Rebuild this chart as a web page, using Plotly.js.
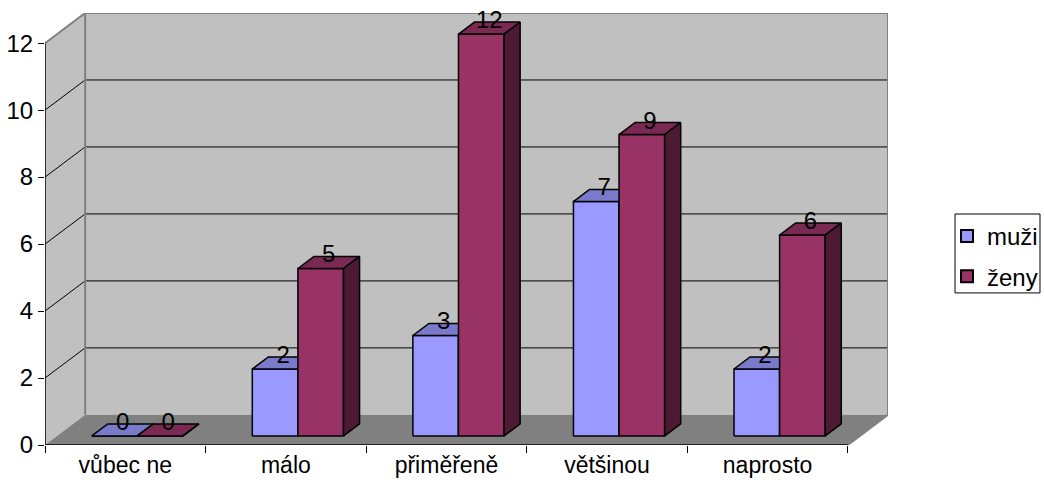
<!DOCTYPE html>
<html>
<head>
<meta charset="utf-8">
<script src="https://cdn.plot.ly/plotly-3.0.1.min.js"></script>
<style>
  html, body { margin: 0; padding: 0; background: #fff; }
  #chart { width: 1044px; height: 480px; }
</style>
</head>
<body>
<div id="chart"></div>
<script>
// Survey answers split by gender
const categories = ['vůbec ne', 'málo', 'přiměřeně', 'většinou', 'naprosto'];
const muzi = [0, 2, 3, 7, 2];
const zeny = [0, 5, 12, 9, 6];
const yTicks = [0, 2, 4, 6, 8, 10, 12];
const seriesNames = ['muži', 'ženy'];

// Pseudo-3D geometry (axis units)
const DX = 0.25;      // horizontal depth shift of the back wall
const DY = 0.9;       // vertical depth shift of the back wall
const BAR_W = 0.284;  // bar width per series
const FRONT = 0.3;    // bar front face depth fraction
const BACK = 0.7;     // bar back face depth fraction
const YMAX = 12;
const N = categories.length;
const FONT_SIZE = 24;

const ox = FRONT * DX, oy = FRONT * DY;
const bx = BACK * DX, by = BACK * DY;

function faces(values, slot) {
  const f = {fx: [], fy: [], tx: [], ty: [], sx: [], sy: [], lx: [], ly: [], lt: []};
  values.forEach((v, i) => {
    const c = i + 0.5;
    const x0 = slot === 0 ? c - BAR_W : c;
    const x1 = x0 + BAR_W;
    f.fx.push(x0 + ox, x1 + ox, x1 + ox, x0 + ox, x0 + ox, null);
    f.fy.push(oy, oy, v + oy, v + oy, oy, null);
    f.tx.push(x0 + ox, x1 + ox, x1 + bx, x0 + bx, x0 + ox, null);
    f.ty.push(v + oy, v + oy, v + by, v + by, v + oy, null);
    f.sx.push(x1 + ox, x1 + bx, x1 + bx, x1 + ox, x1 + ox, null);
    f.sy.push(oy, by, v + by, v + oy, oy, null);
    f.lx.push((x0 + x1) / 2 + 0.5 * DX);
    f.ly.push(v + by);
    f.lt.push(String(v));
  });
  return f;
}

const palette = [
  {front: '#9999ff', top: '#7a7acc', side: '#4d4d80'},
  {front: '#993366', top: '#7a2952', side: '#4d1a33'}
];

const traces = [];
const labelTraces = [];
[muzi, zeny].forEach((vals, s) => {
  const f = faces(vals, s);
  const col = palette[s];
  const base = {type: 'scatter', mode: 'lines', fill: 'toself', hoverinfo: 'skip',
                showlegend: false, line: {color: '#000', width: 1.5}};
  traces.push(Object.assign({}, base, {x: f.fx, y: f.fy, fillcolor: col.front}));
  traces.push(Object.assign({}, base, {x: f.tx, y: f.ty, fillcolor: col.top}));
  traces.push(Object.assign({}, base, {x: f.sx, y: f.sy, fillcolor: col.side}));
  labelTraces.push({type: 'scatter', mode: 'text', x: f.lx, y: f.ly, text: f.lt,
    textposition: 'middle center', textfont: {size: FONT_SIZE, color: '#000'},
    hoverinfo: 'skip', showlegend: false, cliponaxis: false});
});

// Legend entries
const legendTraces = seriesNames.map((name, s) => ({
  type: 'scatter', mode: 'markers', x: [null], y: [null], name: name,
  legendgroup: name,
  marker: {symbol: 'square', size: 12, color: palette[s].front, line: {color: '#000', width: 1}}
}));

// Walls, floor, grid
const shapes = [];
const P = (pts) => 'M' + pts.map(p => p[0] + ',' + p[1]).join(' L') + ' Z';
shapes.push({type: 'path', xref: 'x', yref: 'y', layer: 'below', line: {width: 0},
  fillcolor: '#c0c0c0', path: P([[DX, DY], [N + DX, DY], [N + DX, YMAX + DY], [DX, YMAX + DY]])});
shapes.push({type: 'path', xref: 'x', yref: 'y', layer: 'below', line: {width: 0},
  fillcolor: '#c0c0c0', path: P([[0, 0], [DX, DY], [DX, YMAX + DY], [0, YMAX]])});
shapes.push({type: 'path', xref: 'x', yref: 'y', layer: 'below', line: {width: 0},
  fillcolor: '#808080', path: P([[0, 0], [N, 0], [N + DX, DY], [DX, DY]])});
yTicks.filter(t => t > 0 && t < YMAX).forEach(t => {
  shapes.push({type: 'line', xref: 'x', yref: 'y', layer: 'below',
    x0: DX, y0: t + DY, x1: N + DX, y1: t + DY, line: {color: '#000', width: 1}});
  shapes.push({type: 'line', xref: 'x', yref: 'y', layer: 'below',
    x0: 0, y0: t, x1: DX, y1: t + DY, line: {color: '#000', width: 1}});
});
const edge = {color: '#808080', width: 2};
[[DX, DY, DX, YMAX + DY], [DX, YMAX + DY, N + DX, YMAX + DY], [N + DX, DY, N + DX, YMAX + DY],
 [0, YMAX, DX, YMAX + DY], [N, 0, N + DX, DY]].forEach(s => {
  shapes.push({type: 'line', xref: 'x', yref: 'y', layer: 'below',
    x0: s[0], y0: s[1], x1: s[2], y1: s[3], line: edge});
});
// Axis lines
shapes.push({type: 'line', xref: 'x', yref: 'y', layer: 'below',
  x0: 0, y0: 0, x1: 0, y1: YMAX, line: {color: '#000', width: 1.5}});
shapes.push({type: 'line', xref: 'x', yref: 'y', layer: 'below',
  x0: 0, y0: 0, x1: N, y1: 0, line: {color: '#000', width: 1.5}});
// Legend frame
shapes.push({type: 'rect', xref: 'paper', yref: 'paper',
  x0: 1.0795, x1: 1.1803, y0: 0.352, y1: 0.5347,
  line: {color: '#000', width: 1}, fillcolor: 'rgba(0,0,0,0)'});

const layout = {
  width: 1044, height: 480,
  margin: {l: 45, r: 156, t: 13, b: 35, pad: 0, autoexpand: false},
  paper_bgcolor: '#fff', plot_bgcolor: '#fff',
  font: {family: 'Liberation Sans, Arial, sans-serif', size: FONT_SIZE, color: '#000'},
  showlegend: true,
  legend: {x: 1.07, y: 0.535, xanchor: 'left', yanchor: 'top',
    borderwidth: 0, bgcolor: 'rgba(0,0,0,0)',
    font: {size: FONT_SIZE}, tracegroupgap: 6, itemsizing: 'constant'},
  xaxis: {range: [0, N + DX], showgrid: false, zeroline: false, showline: false,
    tickmode: 'array', tickvals: categories.map((_, i) => i + 0.5), ticktext: categories,
    tickfont: {size: 23}, ticks: '', ticklabelstandoff: 4, automargin: false, fixedrange: true,
    minor: {tickmode: 'array', tickvals: categories.map((_, i) => i).concat([N]),
      ticks: 'outside', ticklen: 7, tickcolor: '#000', tickwidth: 1, showgrid: false}},
  yaxis: {range: [0, YMAX + DY], showgrid: false, zeroline: false, showline: false,
    tickmode: 'array', tickvals: yTicks, ticks: 'outside', ticklen: 6, tickcolor: '#000',
    automargin: false, fixedrange: true},
  shapes: shapes
};

Plotly.newPlot('chart', traces.concat(labelTraces, legendTraces), layout,
  {displayModeBar: false, staticPlot: true});
</script>
</body>
</html>
